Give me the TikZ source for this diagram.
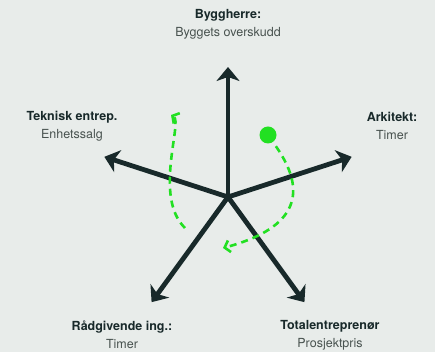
\documentclass[tikz,border=0pt]{standalone}
\usepackage{fontspec}
\setmainfont{TeX Gyre Heros}
\usetikzlibrary{arrows.meta}
\definecolor{cBg}{HTML}{E8ECEA}
\definecolor{cArm}{HTML}{18292A}
\definecolor{cFlow}{HTML}{22E022}
\definecolor{cSub}{HTML}{48524F}

\begin{document}
\begin{tikzpicture}[
  x=1pt, y=1pt,
  font=\fontsize{12.5}{18}\selectfont,
  arm/.style  = {draw=cArm, line width=4.8pt, line cap=round,
                 -{Stealth[length=14pt, width=23pt, inset=4pt]}},
  flow/.style = {draw=cFlow, line width=2.6pt, dash pattern=on 7pt off 5pt,
                 -{Straight Barb[length=5pt, width=12pt, line width=2.6pt]}},
  dot/.style  = {circle, fill=cFlow, minimum size=17pt, inner sep=0pt},
  role/.style = {align=center, text=cSub},
]
\fill[cBg] (-228,-155) rectangle (207,197);
\useasboundingbox (-228,-155) rectangle (207,197);

% five arms of the star, one every 72 degrees
\coordinate (o) at (0,0);
\foreach \i in {0,...,4}
{
  \coordinate (tip\i) at ({90+72*\i}:130);
  \draw[arm] (o) -- (tip\i);
}

% roles and how each is paid
\node[role] (byg) at (0,173)      {{\bfseries\color{cArm}Byggherre:}\\Byggets overskudd};
\node[role] (tek) at (-156,71)    {{\bfseries\color{cArm}Teknisk entrep.}\\Enhetssalg};
\node[role] (ark) at (164,71)     {{\bfseries\color{cArm}Arkitekt:}\\Timer};
\node[role] (rad) at (-106,-138)  {{\bfseries\color{cArm}Rådgivende ing.:}\\Timer};
\node[role] (tot) at (102,-138)   {{\bfseries\color{cArm}Totalentreprenør}\\Prosjektpris};

% green flow round the centre
\node[dot] (start) at (40,62) {};
\coordinate (rEnd) at (-5,-51);
\draw[flow, shorten <=5pt] (start) to[out=-55, in=15, looseness=1.5] (rEnd);

\coordinate (lBeg) at (-43,-31);
\coordinate (lEnd) at (-57,82);
\draw[flow] (lBeg) .. controls (-75,0) and (-45,75) .. (lEnd);
\end{tikzpicture}
\end{document}
